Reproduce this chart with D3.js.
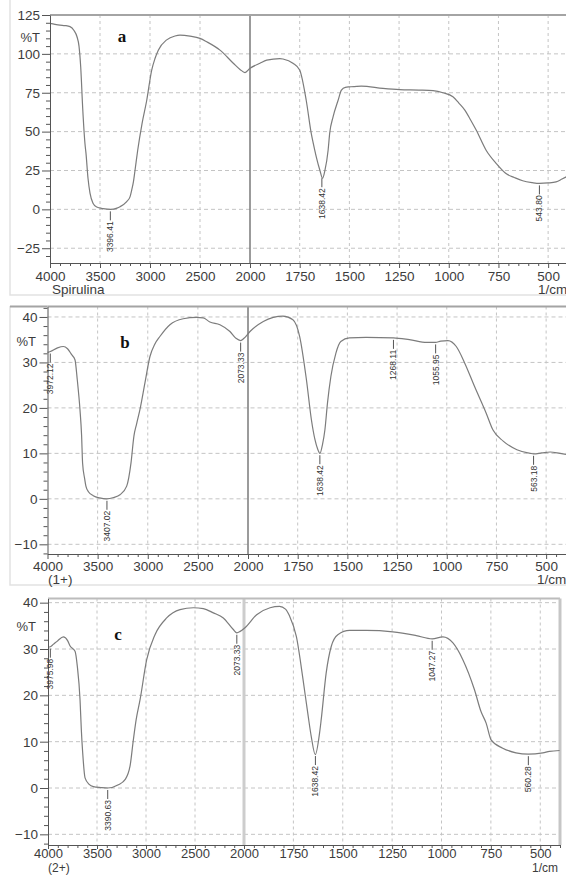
<!DOCTYPE html>
<html lang="en">
<head>
<meta charset="UTF-8">
<title>FTIR spectra - Spirulina</title>
<script src="https://cdnjs.cloudflare.com/ajax/libs/d3/7.8.5/d3.min.js"></script>
<style>
    body { margin: 0; background: #fff; }
    svg { display: block; font-family: "Liberation Sans", Arial, sans-serif; }
    .grid line { stroke: #c4c4c4; stroke-width: 1; stroke-dasharray: 4,3; }
    .spec { fill: none; stroke: #7c7c7c; stroke-width: 1.2; }
    .axis path, .axis line { stroke: #555; }
    .axis text { fill: #3c3c3c; }
    .peak line { stroke: #555; stroke-width: 1; }
    .peak text { fill: #333; font-size: 8.5px; }
</style>
</head>
<body>
<svg width="566" height="875"></svg>
<script>
// axis ticks
const xMajor = [4000, 3500, 3000, 2500, 2000, 1750, 1500, 1250, 1000, 750, 500];
const xMinor = d3.range(4000, 2000, -100).concat(d3.range(2000, 399, -50));
const yMajorA = [125, 100, 75, 50, 25, 0, -25];
const yMajorBC = [40, 30, 20, 10, 0, -10];

// spectrum a : Spirulina
const waveA = [4000, 3950, 3900, 3850, 3800, 3760, 3730, 3710, 3693, 3673, 3650, 3640, 3620, 3600, 3570, 3533, 3470, 3396, 3330, 3300, 3233, 3200, 3183, 3165, 3150, 3123, 3080, 3033, 2983, 2950, 2917, 2833, 2750, 2700, 2600, 2500, 2433, 2300, 2167, 2100, 2050, 2000, 1950, 1916, 1850, 1834, 1784, 1750, 1717, 1692, 1674, 1665, 1648, 1635, 1623, 1607, 1599, 1582, 1557, 1540, 1520, 1498, 1440, 1331, 1247, 1150, 1079, 1029, 979, 950, 920, 890, 862, 812, 762, 712, 670, 628, 580, 544, 500, 460, 430, 400];
const transA = [119.6, 119, 118.5, 118.2, 117.5, 115, 111, 105, 91.7, 65, 42, 36, 20, 10.5, 4, 1.5, 0.5, 0, 0.8, 1.7, 5, 8, 12.4, 18, 25, 38, 55, 70, 89.6, 97, 102.4, 109, 111.5, 112, 111.4, 110, 107.8, 102.4, 94, 90, 88, 90.7, 94, 96, 97, 96.7, 94, 89.6, 70, 49, 38, 33, 25, 20, 25, 38, 49, 59.5, 70, 76.7, 78.5, 78.8, 79.3, 77.8, 77, 76.7, 76.3, 75, 72.4, 68.5, 64, 57.5, 51, 38, 29.6, 23, 20.5, 18.4, 17.2, 16.7, 17, 17.7, 19.5, 21.5];
const peakWaveA = [3396.41, 1638.42, 543.80];
const peakTextA = ["3396.41", "1638.42", "543.80"];

// spectrum b : (1+)
const waveB = [4000, 3972, 3900, 3842, 3800, 3759, 3726, 3703, 3676, 3660, 3650, 3630, 3617, 3590, 3544, 3480, 3410, 3340, 3277, 3210, 3167, 3138, 3111, 3078, 3028, 2978, 2930, 2879, 2779, 2646, 2513, 2447, 2380, 2280, 2180, 2120, 2073, 2040, 1990, 1923, 1873, 1824, 1774, 1740, 1706, 1681, 1663, 1650, 1638, 1625, 1613, 1600, 1583, 1558, 1533, 1490, 1406, 1268, 1188, 1100, 1056, 1030, 994, 952, 910, 860, 802, 768, 716, 647, 580, 563, 522, 480, 430, 400];
const transB = [32.2, 32.4, 33.2, 33.5, 33, 31.7, 30.6, 26.2, 19.6, 14, 7.9, 4.5, 2.8, 1.5, 0.7, 0.2, 0, 0.3, 0.9, 2.8, 7.9, 13.8, 16.5, 19.6, 25.5, 31.3, 34, 35.7, 38.3, 39.6, 39.9, 39.8, 38.9, 38.3, 36.8, 35.3, 34.8, 35.3, 36.8, 39, 39.9, 40.2, 39.4, 35.7, 26.2, 17.4, 13, 11, 10, 12, 15.2, 21.1, 26.9, 32, 34.6, 35.4, 35.5, 35.4, 35, 34.4, 34.4, 34.7, 34.8, 33.5, 29.9, 24.7, 18.9, 15.2, 12.7, 10.8, 10, 9.9, 10.1, 10.3, 10, 9.8];
const peakWaveB = [3972.12, 3407.02, 2073.33, 1638.42, 1268.11, 1055.95, 563.18];
const peakTextB = ["3972.12", "3407.02", "2073.33", "1638.42", "1268.11", "1055.95", "563.18"];

// spectrum c : (2+)
const waveC = [4000, 3976, 3946, 3900, 3844, 3800, 3776, 3724, 3701, 3673, 3660, 3646, 3622, 3580, 3537, 3460, 3391, 3282, 3214, 3163, 3129, 3100, 3061, 2993, 2908, 2789, 2653, 2517, 2415, 2313, 2211, 2109, 2073, 2040, 1995, 1936, 1868, 1820, 1790, 1769, 1735, 1701, 1675, 1659, 1639, 1617, 1609, 1584, 1558, 1525, 1465, 1381, 1246, 1128, 1047, 993, 942, 892, 833, 800, 774, 749, 690, 623, 560, 487, 453, 402];
const transC = [30.4, 30.5, 31, 31.8, 32.6, 31.8, 30.7, 29.5, 26.3, 19, 12.6, 7.6, 2.2, 0.8, 0.3, 0.1, 0, 0.7, 1.8, 4.7, 10.4, 14.8, 19, 27.7, 33.1, 36.7, 38.5, 38.9, 38.7, 37.8, 36.7, 34.2, 33.5, 33.8, 34.6, 37.4, 38.9, 39.2, 38.6, 37.1, 32.7, 23.4, 15.5, 11, 7.2, 12, 14.8, 24.8, 30.6, 33.1, 34, 34, 33.7, 32.9, 32.2, 32.6, 31.3, 27.7, 21.2, 16.5, 14, 10.4, 8.6, 7.6, 7.3, 7.6, 7.9, 8.1];
const peakWaveC = [3975.98, 3390.63, 2073.33, 1638.42, 1047.27, 560.28];
const peakTextC = ["3975.98", "3390.63", "2073.33", "1638.42", "1047.27", "560.28"];

const svg = d3.select("svg");
const FONT = "'Liberation Sans', Arial, sans-serif";

function traceAt(wave, trans, w) {
    for (let i = 0; i < wave.length - 1; i++) {
        if (w <= wave[i] && w >= wave[i + 1]) {
            const t = (wave[i] - w) / (wave[i] - wave[i + 1]);
            return trans[i] + t * (trans[i + 1] - trans[i]);
        }
    }
    return trans[trans.length - 1];
}

function drawPanel(p, wave, trans, peakWave, peakText, yMajor, yMinorStep) {
    const x = d3.scaleLinear().domain([4000, 2000, 400]).range([p.left, p.mid, p.right]);
    const y = d3.scaleLinear().domain(p.yDomain).range([p.bottom, p.top]);
    const g = svg.append("g");

    // outer frame of the printout
    if (p.frame) {
        g.append("path")
            .attr("d", `M${p.frame.x},${p.frame.y0}V${p.frame.y1}H566`)
            .attr("fill", "none").attr("stroke", "#e2e2e2").attr("stroke-width", 1.5);
    }

    // grid
    const grid = g.append("g").attr("class", "grid");
    grid.selectAll("line.h")
        .data(yMajor.filter(v => y(v) > p.top + 3))
        .join("line").attr("class", "h")
        .attr("x1", p.left).attr("x2", p.right)
        .attr("y1", d => y(d)).attr("y2", d => y(d));
    grid.selectAll("line.v")
        .data(xMajor.filter(v => v !== 4000 && v !== 2000))
        .join("line").attr("class", "v")
        .attr("x1", d => x(d)).attr("x2", d => x(d))
        .attr("y1", p.top).attr("y2", p.bottom)
        .style("stroke-dasharray", "3,3");

    // scale break at 2000
    g.append("line")
        .attr("x1", x(2000)).attr("x2", x(2000))
        .attr("y1", p.top).attr("y2", p.bottom)
        .attr("stroke", p.breakColor).attr("stroke-width", p.breakWidth);

    // top border (and right border where visible)
    g.append("line")
        .attr("x1", p.left).attr("x2", Math.min(566, p.right))
        .attr("y1", p.top).attr("y2", p.top)
        .attr("stroke", p.topColor).attr("stroke-width", 2);
    if (p.rightBorder) {
        g.append("line")
            .attr("x1", p.right).attr("x2", p.right)
            .attr("y1", p.top).attr("y2", p.bottom)
            .attr("stroke", "#c6c6c6").attr("stroke-width", 3);
    }

    // spectrum
    const line = d3.line()
        .x(d => x(d[0]))
        .y(d => y(d[1]))
        .curve(d3.curveMonotoneX);
    g.append("path")
        .datum(d3.zip(wave, trans))
        .attr("class", "spec")
        .attr("d", line);

    // axes
    const yAxis = g.append("g").attr("class", "axis")
        .attr("transform", `translate(${p.left},0)`)
        .call(d3.axisLeft(y).tickValues(yMajor).tickFormat(d3.format("d"))
            .tickSize(8).tickPadding(2).tickSizeOuter(0));
    yAxis.selectAll("text").style("font-size", "13.5px").style("font-family", FONT);
    const yMinorVals = d3.range(Math.ceil(p.yDomain[0] / yMinorStep) * yMinorStep, p.yDomain[1], yMinorStep)
        .filter(v => !yMajor.includes(v));
    g.append("g").attr("class", "axis")
        .attr("transform", `translate(${p.left},0)`)
        .call(d3.axisLeft(y).tickValues(yMinorVals).tickSize(4).tickFormat("").tickSizeOuter(0))
        .select(".domain").remove();

    const xAxis = g.append("g").attr("class", "axis")
        .attr("transform", `translate(0,${p.bottom})`)
        .call(d3.axisBottom(x).tickValues(xMajor).tickFormat(d3.format("d"))
            .tickSize(p.xTick).tickPadding(p.xPad).tickSizeOuter(0));
    xAxis.selectAll("text").style("font-size", p.xFont).style("font-family", FONT);
    g.append("g").attr("class", "axis")
        .attr("transform", `translate(0,${p.bottom})`)
        .call(d3.axisBottom(x).tickValues(xMinor.filter(v => !xMajor.includes(v))).tickSize(3).tickFormat("").tickSizeOuter(0))
        .select(".domain").remove();

    // texts
    g.append("text").attr("x", p.pctX).attr("y", p.pctY)
        .attr("text-anchor", "end").attr("dy", "0.35em")
        .style("font-size", "13px").attr("fill", "#3c3c3c").text("%T");
    g.append("text").attr("x", p.nameX).attr("y", p.nameY)
        .style("font-size", p.nameSize).attr("fill", "#3c3c3c").text(p.name);
    g.append("text").attr("x", p.unitX).attr("y", p.nameY)
        .style("font-size", p.nameSize).attr("fill", "#3c3c3c").text("1/cm");
    g.append("text").attr("x", p.letterX).attr("y", p.letterY)
        .attr("text-anchor", "middle")
        .style("font-family", "'Liberation Serif', 'Times New Roman', serif")
        .style("font-weight", "bold").style("font-size", "17px")
        .attr("fill", "#111").text(p.letter);

    // peak markers
    const peaks = g.selectAll("g.peak")
        .data(d3.zip(peakWave, peakText))
        .join("g").attr("class", "peak")
        .attr("transform", d => `translate(${x(d[0])},${y(traceAt(wave, trans, d[0]))})`);
    peaks.append("line").attr("x1", 0).attr("x2", 0).attr("y1", 2).attr("y2", 11);
    peaks.append("text")
        .attr("transform", "translate(3,12) rotate(-90)")
        .attr("text-anchor", "end")
        .text(d => d[1]);
}

drawPanel({
    left: 50, mid: 250, right: 568, top: 15, bottom: 263, yDomain: [-34.5, 125],
    frame: {x: 10, y0: 0, y1: 295},
    breakColor: "#7a7a7a", breakWidth: 1.5, topColor: "#a4a4a4", rightBorder: false,
    xTick: 5, xPad: 3, xFont: "13.5px",
    pctX: 40, pctY: 37, name: "Spirulina", nameX: 52, nameY: 294, unitX: 538, nameSize: "13.5px",
    letter: "a", letterX: 122, letterY: 42
}, waveA, transA, peakWaveA, peakTextA, yMajorA, 5);

drawPanel({
    left: 47.5, mid: 248, right: 566, top: 306.5, bottom: 554, yDomain: [-12.13, 42.3],
    frame: {x: 10, y0: 306, y1: 585},
    breakColor: "#7a7a7a", breakWidth: 1.5, topColor: "#a4a4a4", rightBorder: false,
    xTick: 5, xPad: 2, xFont: "13.5px",
    pctX: 36, pctY: 341, name: "(1+)", nameX: 48, nameY: 584, unitX: 537, nameSize: "13.5px",
    letter: "b", letterX: 125, letterY: 348
}, waveB, transB, peakWaveB, peakTextB, yMajorBC, 2);

drawPanel({
    left: 48, mid: 244, right: 560, top: 598.5, bottom: 845, yDomain: [-12.3, 40.9],
    frame: null,
    breakColor: "#cdcdcd", breakWidth: 3, topColor: "#bcbcbc", rightBorder: true,
    xTick: 4, xPad: 0, xFont: "13px",
    pctX: 36, pctY: 626, name: "(2+)", nameX: 48, nameY: 872.3, unitX: 532, nameSize: "12px",
    letter: "c", letterX: 118, letterY: 639.5
}, waveC, transC, peakWaveC, peakTextC, yMajorBC, 2);

// the frame line on the left of panel b continues to the top edge of panel b
svg.append("line").attr("x1", 10).attr("x2", 47.5).attr("y1", 306.5).attr("y2", 306.5)
    .attr("stroke", "#a4a4a4").attr("stroke-width", 2);
</script>
</body>
</html>
